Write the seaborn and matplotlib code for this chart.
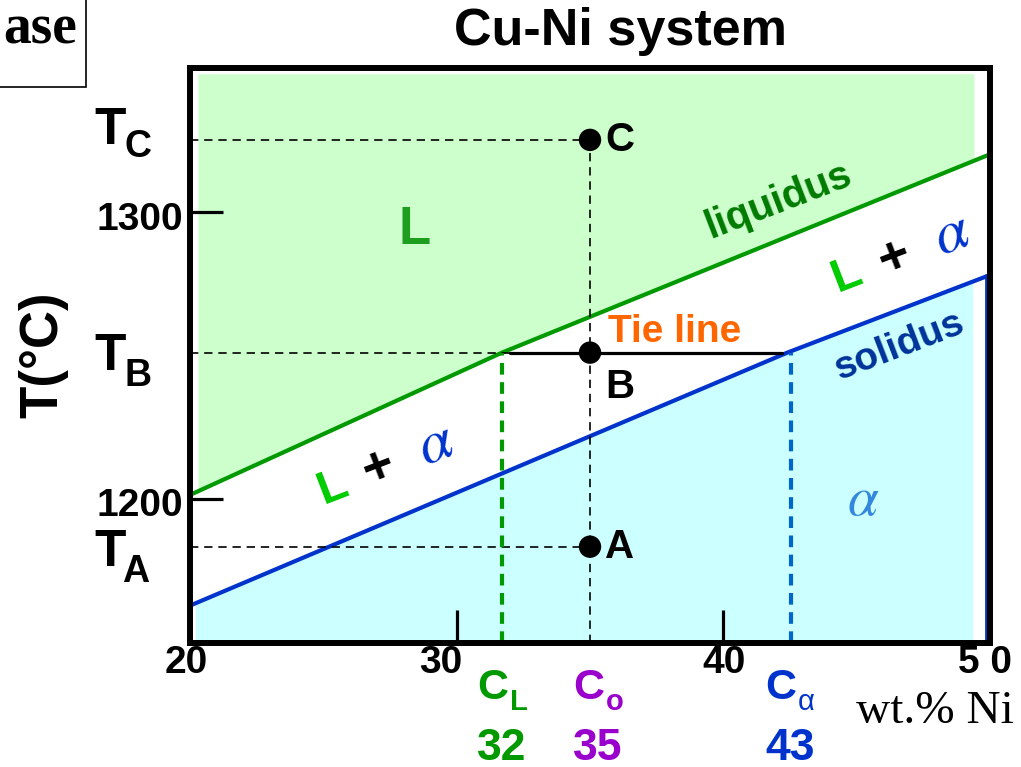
import numpy as np
import pandas as pd
import matplotlib
matplotlib.use("Agg")
import matplotlib.pyplot as plt
from matplotlib.patches import Rectangle
import seaborn as sns

# ---------------- data ----------------
liquidus_x = [20.0, 31.7, 50.0]
liquidus_T = [1201.5, 1251.0, 1320.0]
solidus_x = [20.0, 42.4, 50.0]
solidus_T = [1163.0, 1251.0, 1278.0]

point_names = ["C", "B", "A"]
point_T = [1325.0, 1251.0, 1183.5]
C0 = 35.0
tie_x = [32.0, 42.2]
TB = 1251.0
CL_x = 31.7
Calpha_x = 42.55

conc_names = ["L", "o", "α"]
conc_values = ["32", "35", "43"]

xtick_vals = [30, 40]
ytick_vals = [1200, 1300]
xlabels = ["20", "30", "40", "5 0"]
ylabels = ["1300", "1200"]

# ---------------- style ----------------
sns.set_theme(style="ticks")
plt.rcParams["font.family"] = ["Liberation Sans", "DejaVu Sans"]
plt.rcParams["mathtext.fontset"] = "stix"
plt.rcParams["text.color"] = "black"
plt.rcParams["xtick.color"] = "black"
plt.rcParams["ytick.color"] = "black"
plt.rcParams["xtick.bottom"] = True
plt.rcParams["ytick.left"] = True

W, H = 1021, 767
fig = plt.figure(figsize=(W / 100, H / 100), dpi=100)
ax = fig.add_axes([190 / W, 1 - 643 / H, 800 / W, 575 / H])
ax.set_xlim(20, 50)
ax.set_ylim(1150, 1350)

def px2x(px):
    return 20 + (px - 190) / (800 / 30)

def py2T(py):
    return 1300 - (py - 210.7) / 2.875

# ---------------- fills ----------------
xs_g = np.linspace(20.3, 49.4, 200)
ax.fill_between(xs_g, np.interp(xs_g, liquidus_x, liquidus_T), 1348,
                color="#CCFFCC", lw=0, zorder=1)
xs_c = np.linspace(20.2, 49.35, 200)
ax.fill_between(xs_c, 1150, np.interp(xs_c, solidus_x, solidus_T),
                color="#CCFFFF", lw=0, zorder=1)

# ---------------- phase lines ----------------
liq = pd.DataFrame({"x": liquidus_x, "T": liquidus_T})
sol = pd.DataFrame({"x": solidus_x, "T": solidus_T})
sns.lineplot(data=liq, x="x", y="T", ax=ax, color="#009900", lw=3, zorder=3,
             sort=False, estimator=None)
sns.lineplot(data=sol, x="x", y="T", ax=ax, color="#0033CC", lw=3, zorder=3,
             sort=False, estimator=None)
ax.plot([49.85, 49.85], [1150, solidus_T[-1]], color="#0033CC", lw=2, zorder=3)

# dashed guide lines
for T in point_T:
    ax.plot([20, C0], [T, T], color="black", lw=1.2, ls=(0, (5, 3.5)), zorder=4)
ax.plot([C0, C0], [1150, point_T[0]], color="black", lw=1.2, ls=(0, (5, 3.5)), zorder=4)
ax.plot([CL_x, CL_x], [1150, TB], color="#009900", lw=3, ls=(0, (2.8, 1.8)), zorder=4)
ax.plot([Calpha_x, Calpha_x], [1150, TB], color="#0066CC", lw=3, ls=(0, (2.8, 1.8)), zorder=4)
# tie line
ax.plot(tie_x, [TB, TB], color="black", lw=2.3, zorder=5)

pts = pd.DataFrame({"x": [C0] * 3, "T": point_T})
sns.scatterplot(data=pts, x="x", y="T", ax=ax, color="black", s=260,
                edgecolor="none", zorder=6)

# ---------------- labels inside ----------------
for name, T in zip(point_names, point_T):
    dy = -12 if name == "B" else 0
    ax.text(px2x(605), T + dy, name, fontsize=29, fontweight="bold",
            ha="left", va="center", zorder=7)

ax.text(px2x(415), py2T(229), "L", color="#1E9E1E", fontsize=38,
        fontweight="bold", ha="center", va="center")
ax.text(px2x(778), py2T(200), "liquidus", color="#007A00", fontsize=29,
        fontweight="bold", ha="center", va="center", rotation=21,
        rotation_mode="anchor")
ax.text(px2x(900), py2T(345), "solidus", color="#003399", fontsize=28,
        fontweight="bold", ha="center", va="center", rotation=21,
        rotation_mode="anchor")
ax.text(px2x(675), py2T(331), "Tie line", color="#FF6600", fontsize=28,
        fontweight="bold", ha="center", va="center")
ax.text(px2x(863), py2T(500), r"$\alpha$", color="#3388DD", fontsize=40,
        ha="center", va="center")

for (lx, ly), (plx, ply), (ax_, ay) in [
        ((333, 487), (379, 467), (436, 443)),
        ((847, 275), (895, 257), (952, 233))]:
    ax.text(px2x(lx), py2T(ly), "L", color="#00CC00", fontsize=34,
            fontweight="bold", ha="center", va="center", rotation=21,
            rotation_mode="anchor")
    ax.text(px2x(plx), py2T(ply), "+", color="black", fontsize=38,
            fontweight="bold", ha="center", va="center", rotation=21,
            rotation_mode="anchor")
    ax.text(px2x(ax_), py2T(ay), r"$\alpha$", color="#0033CC", fontsize=44,
            ha="center", va="center", rotation=21, rotation_mode="anchor")

# ---------------- axes styling ----------------
for sp in ax.spines.values():
    sp.set_visible(True)
    sp.set_linewidth(4.3)
    sp.set_color("black")
    sp.set_zorder(10)
ax.set_xticks(xtick_vals)
ax.set_yticks(ytick_vals)
ax.tick_params(axis="both", direction="in", length=24, width=2.3,
               color="black", labelbottom=False, labelleft=False,
               bottom=True, left=True, top=False, right=False)
ax.set_xlabel("")
ax.set_ylabel("")
ax.set_axisbelow(False)

def ftext(px, py, s, **kw):
    fig.text(px / W, 1 - py / H, s, **kw)

# x labels
for s, px in zip(xlabels, [186, 441, 724, 985]):
    ftext(px, 663, s, fontsize=28, fontweight="bold", ha="center", va="center")
# y labels
for s, py in zip(ylabels, [219.5, 506.5]):
    ftext(140, py, s, fontsize=28, fontweight="bold", ha="center", va="center")
# T labels
for sub, pyT, pys, pxs in [("C", 131, 147, 138), ("B", 356, 376, 138), ("A", 553, 572, 136)]:
    ftext(110, pyT, "T", fontsize=37, fontweight="bold", ha="center", va="center")
    ftext(pxs, pys, sub, fontsize=27, fontweight="bold", ha="center", va="center")

ftext(43, 355, "T(°C)", fontsize=38, fontweight="bold", ha="center",
      va="center", rotation=90)
ftext(621, 31, "Cu-Ni system", fontsize=37.5, fontweight="bold", ha="center",
      va="center")

# composition labels
conc_colors = ["#009900", "#9900CC", "#0033CC"]
conc_px = [502, 598, 790]
for nm, val, col, px in zip(conc_names, conc_values, conc_colors, conc_px):
    ftext(px + 6, 688, "C", color=col, fontsize=31, fontweight="bold",
          ha="right", va="center")
    ftext(px + 8, 702, nm, color=col, fontsize=21,
          fontweight="normal" if nm == "α" else "bold",
          ha="left", va="center")
    ftext(px, 748, val, color=col, fontsize=32, fontweight="bold",
          ha="center", va="center")

ftext(935, 712, "wt.% Ni", fontsize=34, family="Liberation Serif",
      ha="center", va="center")

# boxed cropped title
fig.patches.append(Rectangle((-10 / W, 1 - 87 / H), 96 / W, 100 / H,
                             transform=fig.transFigure, fill=False,
                             edgecolor="black", lw=1.2))
ftext(40, 44, "ase", fontsize=40, fontweight="bold", family="Liberation Serif",
      ha="center", va="baseline")

fig.savefig("out.png", dpi=100)
